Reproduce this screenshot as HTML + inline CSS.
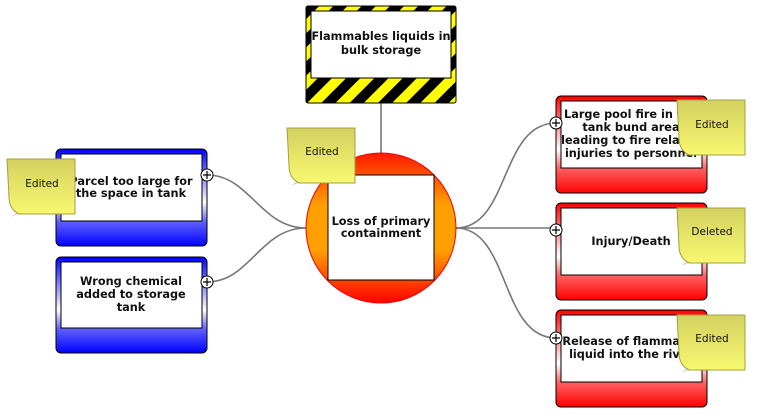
<!DOCTYPE html>
<html><head><style>
body{margin:0;background:#fff;}
svg text{font-family:"DejaVu Sans","Liberation Sans",sans-serif;font-weight:bold;font-size:11.3px;fill:#111;}
.n{font-size:10.5px;font-weight:normal;}
</style></head><body>
<svg width="782" height="413" viewBox="0 0 782 413" xmlns="http://www.w3.org/2000/svg">
<defs>
<linearGradient id="bl" x1="0" y1="0" x2="0" y2="1">
<stop offset="0" stop-color="#0000ff"/><stop offset="0.55" stop-color="#ffffff"/><stop offset="0.75" stop-color="#6060ff"/><stop offset="1" stop-color="#0000ff"/></linearGradient>
<linearGradient id="rd" x1="0" y1="0" x2="0" y2="1">
<stop offset="0" stop-color="#ff0000"/><stop offset="0.55" stop-color="#ffffff"/><stop offset="0.75" stop-color="#ff6060"/><stop offset="1" stop-color="#ff0000"/></linearGradient>
<linearGradient id="cg" x1="0" y1="0" x2="0" y2="1">
<stop offset="0" stop-color="#ff1a00"/><stop offset="0.35" stop-color="#ffa000"/><stop offset="0.65" stop-color="#ffa000"/><stop offset="1" stop-color="#ff0000"/></linearGradient>
<linearGradient id="sn" x1="0" y1="0" x2="0" y2="1">
<stop offset="0" stop-color="#d4d060"/><stop offset="1" stop-color="#f8f870"/></linearGradient>
<pattern id="hz" width="20" height="20" patternUnits="userSpaceOnUse" patternTransform="rotate(45)">
<rect width="20" height="20" fill="#ffff00"/><rect width="10" height="20" fill="#000"/></pattern>
<g id="note"><path d="M4 58 Q20 50 40 54 L40 30 Z" fill="#ccc"/><path d="M0 0 H68 V55 H12 Q2 50 2 38 Z" fill="url(#sn)" stroke="#a0a040"/></g>
</defs>
<g fill="none" stroke="#777" stroke-width="1.6">
<line x1="381" y1="103" x2="381" y2="153"/>
<path d="M306 228 C260 228 250 175 207 175"/>
<path d="M306 228 C260 228 250 282 207 282"/>
<path d="M456 228 C510 228 500 123 556 123"/>
<path d="M456 228 H556"/>
<path d="M456 228 C510 228 500 338 556 338"/>
</g>
<rect x="306" y="6" width="150" height="97" rx="2" fill="url(#hz)" stroke="#000"/>
<rect x="311" y="11" width="140" height="67" fill="#fff" stroke="#000"/>
<text x="381" y="40" text-anchor="middle">Flammables liquids in</text>
<text x="381" y="54" text-anchor="middle">bulk storage</text>
<circle cx="381" cy="228" r="75" fill="url(#cg)" stroke="#e00"/>
<rect x="328" y="175" width="106" height="105" fill="#fff" stroke="#000"/>
<text x="381" y="225" text-anchor="middle">Loss of primary</text>
<text x="381" y="237" text-anchor="middle">containment</text>
<rect x="56" y="149" width="151" height="97" rx="5" fill="url(#bl)" stroke="#000"/>
<rect x="61" y="154" width="141" height="67" fill="#fff" stroke="#000"/>
<text x="131" y="185" text-anchor="middle">Parcel too large for</text>
<text x="131" y="197" text-anchor="middle">the space in tank</text>
<rect x="56" y="257" width="151" height="96" rx="5" fill="url(#bl)" stroke="#000"/>
<rect x="61" y="262" width="141" height="66" fill="#fff" stroke="#000"/>
<text x="131" y="285" text-anchor="middle">Wrong chemical</text>
<text x="131" y="298" text-anchor="middle">added to storage</text>
<text x="131" y="311" text-anchor="middle">tank</text>
<rect x="556" y="96" width="151" height="97" rx="5" fill="url(#rd)" stroke="#000"/>
<rect x="561" y="101" width="141" height="67" fill="#fff" stroke="#000"/>
<text x="631" y="118" text-anchor="middle">Large pool fire in the</text>
<text x="631" y="131" text-anchor="middle">tank bund area</text>
<text x="631" y="144" text-anchor="middle">leading to fire related</text>
<text x="631" y="157" text-anchor="middle">injuries to personnel</text>
<rect x="556" y="203" width="151" height="97" rx="5" fill="url(#rd)" stroke="#000"/>
<rect x="561" y="208" width="141" height="67" fill="#fff" stroke="#000"/>
<text x="631" y="245" text-anchor="middle">Injury/Death</text>
<rect x="556" y="310" width="151" height="97" rx="5" fill="url(#rd)" stroke="#000"/>
<rect x="561" y="315" width="141" height="67" fill="#fff" stroke="#000"/>
<text x="631" y="345" text-anchor="middle">Release of flammable</text>
<text x="631" y="358" text-anchor="middle">liquid into the river</text>
<g fill="#fff" stroke="#000">
<circle cx="207" cy="175" r="6"/><circle cx="207" cy="282" r="6"/>
<circle cx="556" cy="123" r="6"/><circle cx="556" cy="230" r="6"/><circle cx="556" cy="338" r="6"/>
</g>
<g stroke="#000" stroke-width="1.2">
<path d="M203 175h8M207 171v8M203 282h8M207 278v8M552 123h8M556 119v8M552 230h8M556 226v8M552 338h8M556 334v8"/>
</g>
<use href="#note" x="7" y="159"/><text class="n" x="42" y="187" text-anchor="middle">Edited</text>
<use href="#note" x="287" y="128"/><text class="n" x="322" y="155" text-anchor="middle">Edited</text>
<use href="#note" x="677" y="100"/><text class="n" x="712" y="128" text-anchor="middle">Edited</text>
<use href="#note" x="677" y="208"/><text class="n" x="712" y="235" text-anchor="middle">Deleted</text>
<use href="#note" x="677" y="315"/><text class="n" x="712" y="342" text-anchor="middle">Edited</text>
</svg>
</body></html>
